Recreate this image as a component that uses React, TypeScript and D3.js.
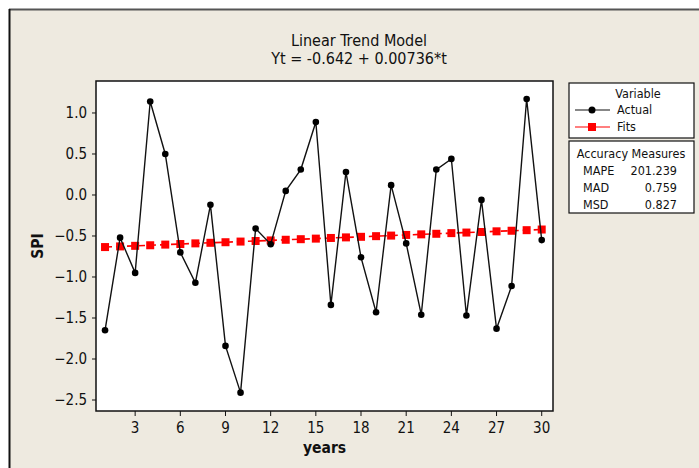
import React from 'react';
import * as d3 from 'd3';

// years 1..30
const years: number[] = d3.range(1, 31);

// SPI values
const actual: number[] = [
    -1.65, -0.52, -0.95, 1.14, 0.50, -0.70, -1.07, -0.12, -1.84, -2.41,
    -0.41, -0.60, 0.05, 0.31, 0.89, -1.34, 0.28, -0.76, -1.43, 0.12,
    -0.59, -1.46, 0.31, 0.44, -1.47, -0.06, -1.63, -1.11, 1.17, -0.55,
];

// fitted trend values
const fits: number[] = [
    -0.635, -0.627, -0.620, -0.613, -0.605, -0.598, -0.590, -0.583, -0.576, -0.568,
    -0.561, -0.554, -0.546, -0.539, -0.532, -0.524, -0.517, -0.510, -0.502, -0.495,
    -0.487, -0.480, -0.473, -0.465, -0.458, -0.451, -0.443, -0.436, -0.429, -0.421,
];

const xTicks: number[] = [3, 6, 9, 12, 15, 18, 21, 24, 27, 30];
const yTicks: number[] = [1.0, 0.5, 0.0, -0.5, -1.0, -1.5, -2.0, -2.5];

const accuracyLabels: string[] = ['MAPE', 'MAD', 'MSD'];
const accuracyValues: string[] = ['201.239', '0.759', '0.827'];

const FONT = '"DejaVu Sans Condensed", "DejaVu Sans", sans-serif';
const BG = '#EEEAE0';

const App: React.FC = () => {
    const W = 699, H = 468;
    const plot = { left: 96, right: 553, top: 81, bottom: 411 };

    const x = d3.scaleLinear().domain([0.4, 30.75]).range([plot.left, plot.right]);
    const y = d3.scaleLinear().domain([-2.634, 1.39]).range([plot.bottom, plot.top]);

    const line = d3.line<number>()
        .x((_, i) => x(years[i]))
        .y(d => y(d));

    const lg = { x: 569, w: 125 };

    return (
        <svg width={W} height={H} style={{ position: 'absolute', left: 0, top: 0 }}
            fontFamily={FONT}>
            <rect x={0} y={0} width={W} height={H} fill="#fff" />
            <rect x={9} y={9} width={W} height={H} fill={BG} />
            <line x1={9} y1={9.5} x2={W} y2={9.5} stroke="#555" strokeWidth={2} />
            <line x1={9.5} y1={9} x2={9.5} y2={H} stroke="#111" strokeWidth={2} />

            {/* title */}
            <text x={359} y={46} textAnchor="middle" fontSize={16} fill="#111">Linear Trend Model</text>
            <text x={359} y={64} textAnchor="middle" fontSize={16} fill="#111">Yt = -0.642 + 0.00736*t</text>

            {/* plot area */}
            <rect x={plot.left} y={plot.top} width={plot.right - plot.left} height={plot.bottom - plot.top}
                fill="#fff" stroke="#111" strokeWidth={1.5} />

            {/* y axis */}
            {yTicks.map(t => (
                <g key={'y' + t}>
                    <line x1={plot.left - 4} x2={plot.left} y1={y(t)} y2={y(t)} stroke="#111" />
                    <text x={plot.left - 9} y={y(t)} dy="0.35em" textAnchor="end" fontSize={15} fill="#111">
                        {d3.format('.1f')(t)}
                    </text>
                </g>
            ))}
            <text transform={`translate(43,${(plot.top + plot.bottom) / 2}) rotate(-90)`}
                textAnchor="middle" fontSize={15.5} fontWeight="bold" fill="#111">SPI</text>

            {/* x axis */}
            {xTicks.map(t => (
                <g key={'x' + t}>
                    <line x1={x(t)} x2={x(t)} y1={plot.bottom} y2={plot.bottom + 5} stroke="#111" />
                    <text x={x(t)} y={plot.bottom + 17} dy="0.35em" textAnchor="middle" fontSize={15} fill="#111">
                        {t}
                    </text>
                </g>
            ))}
            <text x={(plot.left + plot.right) / 2} y={453} textAnchor="middle" fontSize={15.5}
                fontWeight="bold" fill="#111">years</text>

            {/* fits */}
            <path d={line(fits) ?? ''} fill="none" stroke="#ff0000" strokeWidth={1.6} strokeDasharray="7,4" />
            {fits.map((v, i) => (
                <rect key={'f' + i} x={x(years[i]) - 4} y={y(v) - 4} width={8} height={8} fill="#ff0000" />
            ))}

            {/* actual */}
            <path d={line(actual) ?? ''} fill="none" stroke="#111" strokeWidth={1.4} />
            {actual.map((v, i) => (
                <circle key={'a' + i} cx={x(years[i])} cy={y(v)} r={3.3} fill="#000" />
            ))}

            {/* legend */}
            <rect x={lg.x} y={83} width={lg.w} height={55} fill="#fff" stroke="#111" strokeWidth={1.2} />
            <text x={638} y={98} textAnchor="middle" fontSize={12.5} fill="#111">Variable</text>
            <line x1={575} x2={610} y1={110} y2={110} stroke="#111" strokeWidth={1.2} />
            <circle cx={592} cy={110} r={3.5} fill="#000" />
            <text x={617} y={110} dy="0.35em" fontSize={12.5} fill="#111">Actual</text>
            <line x1={575} x2={610} y1={127} y2={127} stroke="#ff0000" strokeWidth={1.2} />
            <rect x={588} y={123} width={8} height={8} fill="#ff0000" />
            <text x={617} y={127} dy="0.35em" fontSize={12.5} fill="#111">Fits</text>

            <rect x={lg.x} y={141} width={lg.w} height={72} fill="#fff" stroke="#111" strokeWidth={1.2} />
            <text x={631} y={154} dy="0.35em" textAnchor="middle" fontSize={12.5} fill="#111">Accuracy Measures</text>
            {accuracyLabels.map((lab, i) => (
                <g key={lab}>
                    <text x={583} y={171 + i * 17} dy="0.35em" fontSize={12.5} fill="#111">{lab}</text>
                    <text x={677} y={171 + i * 17} dy="0.35em" textAnchor="end" fontSize={12.5} fill="#111">
                        {accuracyValues[i]}
                    </text>
                </g>
            ))}
        </svg>
    );
};

export default App;
